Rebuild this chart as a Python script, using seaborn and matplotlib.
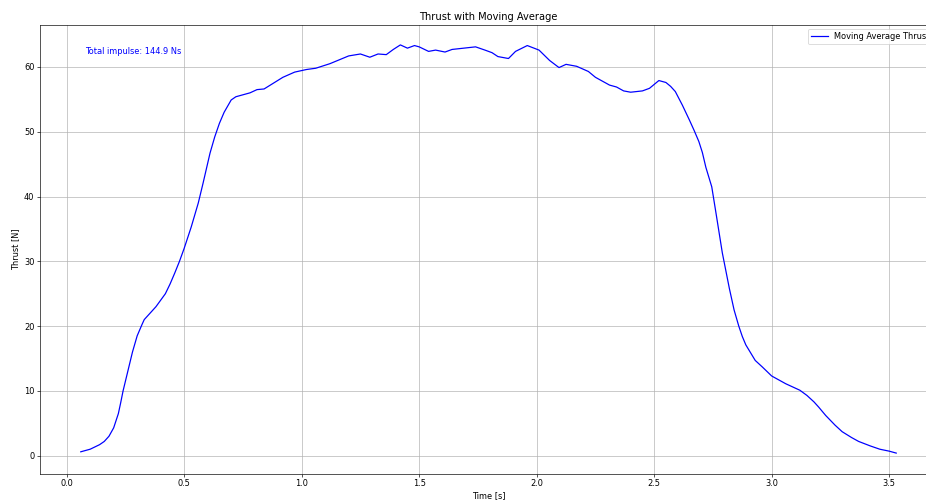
import numpy as np
import pandas as pd
import matplotlib
matplotlib.use("Agg")
import matplotlib.pyplot as plt
import seaborn as sns

# moving average thrust curve
time_s = [0.06, 0.10, 0.14, 0.16, 0.18, 0.20, 0.22, 0.23, 0.24, 0.26, 0.28, 0.30,
          0.32, 0.33, 0.35, 0.38, 0.42, 0.44, 0.46, 0.48, 0.50, 0.53, 0.56, 0.58,
          0.61, 0.63, 0.65, 0.67, 0.70, 0.72, 0.78, 0.81, 0.84, 0.88, 0.92, 0.97,
          1.02, 1.06, 1.12, 1.16, 1.20, 1.25, 1.29, 1.325, 1.36, 1.39, 1.42, 1.45,
          1.48, 1.50, 1.54, 1.57, 1.61, 1.64, 1.69, 1.74, 1.78, 1.81, 1.835, 1.88,
          1.91, 1.96, 2.01, 2.055, 2.095, 2.125, 2.17, 2.22, 2.25, 2.27, 2.31, 2.34,
          2.37, 2.40, 2.45, 2.48, 2.52, 2.55, 2.57, 2.59, 2.62, 2.65, 2.67, 2.69,
          2.705, 2.72, 2.745, 2.765, 2.79, 2.82, 2.84, 2.86, 2.875, 2.89, 2.93, 2.96,
          3.00, 3.03, 3.06, 3.09, 3.12, 3.15, 3.18, 3.20, 3.23, 3.27, 3.30, 3.34,
          3.37, 3.42, 3.46, 3.50, 3.53]
thrust_n = [0.6, 1.0, 1.7, 2.2, 3.0, 4.3, 6.5, 8.2, 10.0, 13.0, 16.0, 18.5,
            20.2, 21.0, 21.8, 23.0, 25.0, 26.5, 28.2, 30.0, 32.0, 35.3, 39.0, 42.0,
            46.7, 49.2, 51.3, 53.0, 54.9, 55.4, 56.0, 56.5, 56.6, 57.5, 58.4, 59.2,
            59.6, 59.8, 60.5, 61.1, 61.7, 62.0, 61.5, 62.0, 61.9, 62.7, 63.4, 62.9,
            63.3, 63.1, 62.4, 62.6, 62.3, 62.7, 62.9, 63.1, 62.6, 62.2, 61.6, 61.3,
            62.4, 63.3, 62.6, 61.0, 59.9, 60.4, 60.1, 59.3, 58.4, 58.0, 57.2, 56.9,
            56.3, 56.1, 56.3, 56.7, 57.9, 57.6, 57.0, 56.2, 54.1, 51.8, 50.2, 48.5,
            46.8, 44.5, 41.5, 37.0, 31.3, 25.8, 22.5, 20.0, 18.4, 17.1, 14.7, 13.7,
            12.3, 11.7, 11.1, 10.6, 10.1, 9.3, 8.3, 7.5, 6.2, 4.7, 3.7, 2.8,
            2.2, 1.5, 1.0, 0.7, 0.4]
total_impulse = 144.9

df = pd.DataFrame({"Time": time_s, "Thrust": thrust_n})

# big figure at low dpi -> same look as a downscaled default matplotlib plot
fig = plt.figure(figsize=(926 / 59, 502 / 59), dpi=59)
ax = fig.add_axes([40 / 926, 28.5 / 502, 897 / 926, 449 / 502])

sns.lineplot(data=df, x="Time", y="Thrust", color="blue",
             label="Moving Average Thrust", ax=ax, linewidth=1.5)
ax.text(0.05, 0.95, f"Total impulse: {total_impulse} Ns", transform=ax.transAxes,
        va="top", color="blue")
ax.set_title("Thrust with Moving Average")
ax.set_xlabel("Time [s]")
ax.set_ylabel("Thrust [N]")
ax.grid(True)
ax.legend(loc="upper right")

fig.savefig("out.png", dpi=59)
